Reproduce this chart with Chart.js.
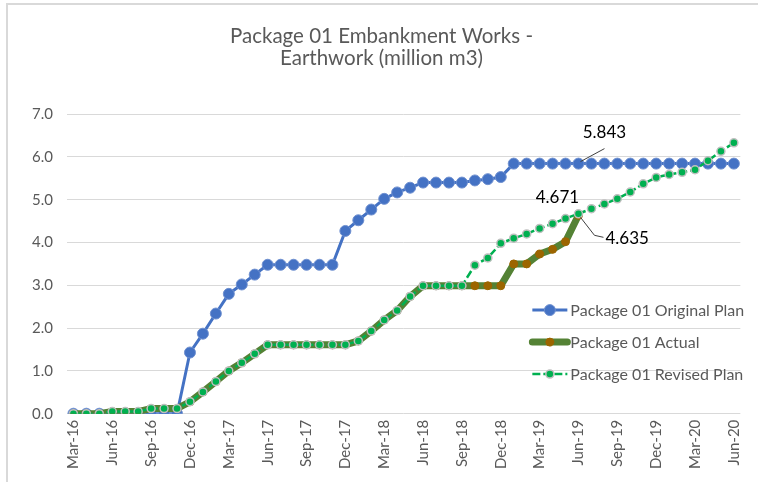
<!DOCTYPE html>
<html>
<head>
<meta charset="utf-8">
<script src="https://cdn.jsdelivr.net/npm/chart.js@4.4.1/dist/chart.umd.min.js"></script>
<style>
    body { margin: 0; background: #fff; }
    #wrap { width: 758px; height: 482px; }
</style>
</head>
<body>
<div id="wrap"><canvas id="chart" width="758" height="482"></canvas></div>
<script>
// Package 01 Embankment Works - cumulative earthwork (million m3)

var months = [
    'Mar-16', 'Apr-16', 'May-16', 'Jun-16', 'Jul-16', 'Aug-16', 'Sep-16', 'Oct-16', 'Nov-16', 'Dec-16',
    'Jan-17', 'Feb-17', 'Mar-17', 'Apr-17', 'May-17', 'Jun-17', 'Jul-17', 'Aug-17', 'Sep-17', 'Oct-17', 'Nov-17', 'Dec-17',
    'Jan-18', 'Feb-18', 'Mar-18', 'Apr-18', 'May-18', 'Jun-18', 'Jul-18', 'Aug-18', 'Sep-18', 'Oct-18', 'Nov-18', 'Dec-18',
    'Jan-19', 'Feb-19', 'Mar-19', 'Apr-19', 'May-19', 'Jun-19', 'Jul-19', 'Aug-19', 'Sep-19', 'Oct-19', 'Nov-19', 'Dec-19',
    'Jan-20', 'Feb-20', 'Mar-20', 'Apr-20', 'May-20', 'Jun-20'
];

var originalPlan = [
    0, 0, 0, 0, 0, 0, 0, 0, 0, 1.43,
    1.87, 2.34, 2.80, 3.02, 3.25, 3.48, 3.48, 3.48, 3.48, 3.48, 3.48, 4.27,
    4.52, 4.77, 5.02, 5.17, 5.28, 5.40, 5.40, 5.40, 5.40, 5.45, 5.48, 5.53,
    5.843, 5.843, 5.843, 5.843, 5.843, 5.843, 5.843, 5.843, 5.843, 5.843, 5.843, 5.843,
    5.843, 5.843, 5.843, 5.843, 5.843, 5.843
];

var actual = [
    0, 0, 0, 0.05, 0.05, 0.05, 0.12, 0.12, 0.12, 0.28,
    0.51, 0.75, 1.00, 1.19, 1.40, 1.61, 1.61, 1.61, 1.61, 1.61, 1.61, 1.61,
    1.70, 1.93, 2.19, 2.41, 2.74, 2.99, 2.99, 2.99, 2.99, 2.99, 2.99, 2.99,
    3.50, 3.50, 3.73, 3.84, 4.02, 4.635, null, null, null, null, null, null,
    null, null, null, null, null, null
];

var revisedPlan = [
    0, 0, 0, 0.05, 0.05, 0.05, 0.12, 0.12, 0.12, 0.28,
    0.51, 0.75, 1.00, 1.19, 1.40, 1.61, 1.61, 1.61, 1.61, 1.61, 1.61, 1.61,
    1.70, 1.93, 2.19, 2.41, 2.74, 2.99, 2.99, 2.99, 2.99, 3.47, 3.64, 3.98,
    4.10, 4.20, 4.33, 4.44, 4.56, 4.671, 4.79, 4.90, 5.02, 5.18, 5.37, 5.52,
    5.59, 5.64, 5.70, 5.91, 6.13, 6.33
];

var seriesNames = ['Package 01 Original Plan', 'Package 01 Actual', 'Package 01 Revised Plan'];
var labelMonth = 'Jun-19';

var FONT = 'Lato, "Open Sans", sans-serif';
var GREY = '#595959';

// light frame like the excel chart object (only left/top visible)
var framePlugin = {
    id: 'frame',
    beforeDraw(chart) {
        var ctx = chart.ctx;
        ctx.save();
        ctx.fillStyle = '#fff';
        ctx.fillRect(0, 0, chart.width, chart.height);
        ctx.strokeStyle = '#d9d9d9';
        ctx.lineWidth = 2;
        ctx.beginPath();
        ctx.moveTo(7, chart.height);
        ctx.lineTo(7, 4);
        ctx.lineTo(chart.width, 4);
        ctx.stroke();
        ctx.restore();
    }
};

// legend drawn inside the plot area, bottom right
var insideLegend = {
    id: 'insideLegend',
    afterDatasetsDraw(chart) {
        var ctx = chart.ctx;
        var area = chart.chartArea;
        var rows = [area.top + 196, area.top + 228, area.top + 260];
        var x0 = area.right - 208;
        ctx.save();
        ctx.font = '16px ' + FONT;
        ctx.textBaseline = 'middle';
        chart.data.datasets.forEach(function (ds, i) {
            var y = rows[i];
            ctx.strokeStyle = ds.borderColor;
            ctx.lineWidth = ds.borderWidth;
            ctx.setLineDash(ds.borderDash || []);
            ctx.lineCap = i === 1 ? 'round' : 'butt';
            ctx.beginPath();
            ctx.moveTo(x0, y);
            ctx.lineTo(x0 + 35, y);
            ctx.stroke();
            ctx.setLineDash([]);
            ctx.beginPath();
            ctx.arc(x0 + 17.5, y, ds.pointRadius, 0, Math.PI * 2);
            ctx.fillStyle = ds.pointBackgroundColor;
            ctx.fill();
            ctx.lineWidth = ds.pointBorderWidth;
            ctx.strokeStyle = ds.pointBorderColor;
            ctx.stroke();
            ctx.fillStyle = GREY;
            ctx.fillText(ds.label, x0 + 38, y + 1);
        });
        ctx.restore();
    }
};

// value labels for Jun-19 with leader lines
var valueLabels = {
    id: 'valueLabels',
    afterDatasetsDraw(chart) {
        var ctx = chart.ctx;
        var idx = months.indexOf(labelMonth);
        var pOrig = chart.getDatasetMeta(0).data[idx];
        var pAct = chart.getDatasetMeta(1).data[idx];
        var pRev = chart.getDatasetMeta(2).data[idx];
        ctx.save();
        ctx.font = '17px ' + FONT;
        ctx.fillStyle = '#000';
        ctx.strokeStyle = '#404040';
        ctx.lineWidth = 1;
        ctx.textBaseline = 'middle';

        ctx.textAlign = 'center';
        ctx.beginPath();
        ctx.moveTo(pOrig.x + 2, pOrig.y - 2);
        ctx.lineTo(pOrig.x + 26, pOrig.y - 15);
        ctx.stroke();
        ctx.fillText(originalPlan[idx].toFixed(3), pOrig.x + 26, pOrig.y - 31);

        ctx.fillText(revisedPlan[idx].toFixed(3), pRev.x - 21, pRev.y - 16);

        ctx.beginPath();
        ctx.moveTo(pAct.x + 2, pAct.y + 2);
        ctx.lineTo(pAct.x + 16, pAct.y + 20);
        ctx.lineTo(pAct.x + 25, pAct.y + 22);
        ctx.stroke();
        ctx.textAlign = 'left';
        ctx.fillText(actual[idx].toFixed(3), pAct.x + 27, pAct.y + 23);
        ctx.restore();
    }
};

var ctx = document.getElementById('chart').getContext('2d');
var chart = new Chart(ctx, {
    type: 'line',
    data: {
        labels: months,
        datasets: [
            {
                label: seriesNames[0], data: originalPlan, order: 3,
                borderColor: '#4472C4', borderWidth: 3,
                pointRadius: 5.5, pointBackgroundColor: '#4472C4', pointBorderColor: '#6f90d0', pointBorderWidth: 1
            },
            {
                label: seriesNames[1], data: actual, order: 2,
                borderColor: '#548235', borderWidth: 7,
                pointRadius: 4, pointBackgroundColor: '#9c6500', pointBorderColor: '#9c6500', pointBorderWidth: 1
            },
            {
                label: seriesNames[2], data: revisedPlan, order: 1,
                borderColor: '#00B050', borderWidth: 2.5, borderDash: [8, 3],
                pointRadius: 4, pointBackgroundColor: '#00B050', pointBorderColor: '#bfbfbf', pointBorderWidth: 1.5
            }
        ]
    },
    options: {
        responsive: false,
        animation: false,
        spanGaps: false,
        elements: { line: { tension: 0 } },
        layout: { padding: { left: 18, right: 13, top: 0, bottom: 7 } },
        plugins: {
            legend: { display: false },
            tooltip: { enabled: false },
            title: {
                display: true,
                text: ['Package 01 Embankment Works -', 'Earthwork (million m3)'],
                color: GREY,
                font: { family: FONT, size: 20.5, weight: 'normal', lineHeight: 1.1 },
                padding: { top: 25, bottom: 44 }
            }
        },
        scales: {
            x: {
                offset: true,
                grid: { display: false, drawTicks: false },
                border: { display: false },
                ticks: {
                    autoSkip: false,
                    maxRotation: 90,
                    minRotation: 90,
                    padding: 6,
                    color: GREY,
                    font: { family: FONT, size: 15 },
                    callback: function (value, index) {
                        return index % 3 === 0 ? months[index] : '';
                    }
                }
            },
            y: {
                min: 0,
                max: 7,
                grid: { color: '#d9d9d9', lineWidth: 1, drawTicks: false },
                border: { display: false },
                ticks: {
                    stepSize: 1,
                    padding: 14,
                    color: GREY,
                    font: { family: FONT, size: 15 },
                    callback: function (value) { return value.toFixed(1); }
                }
            }
        }
    },
    plugins: [framePlugin, insideLegend, valueLabels]
});
</script>
</body>
</html>
